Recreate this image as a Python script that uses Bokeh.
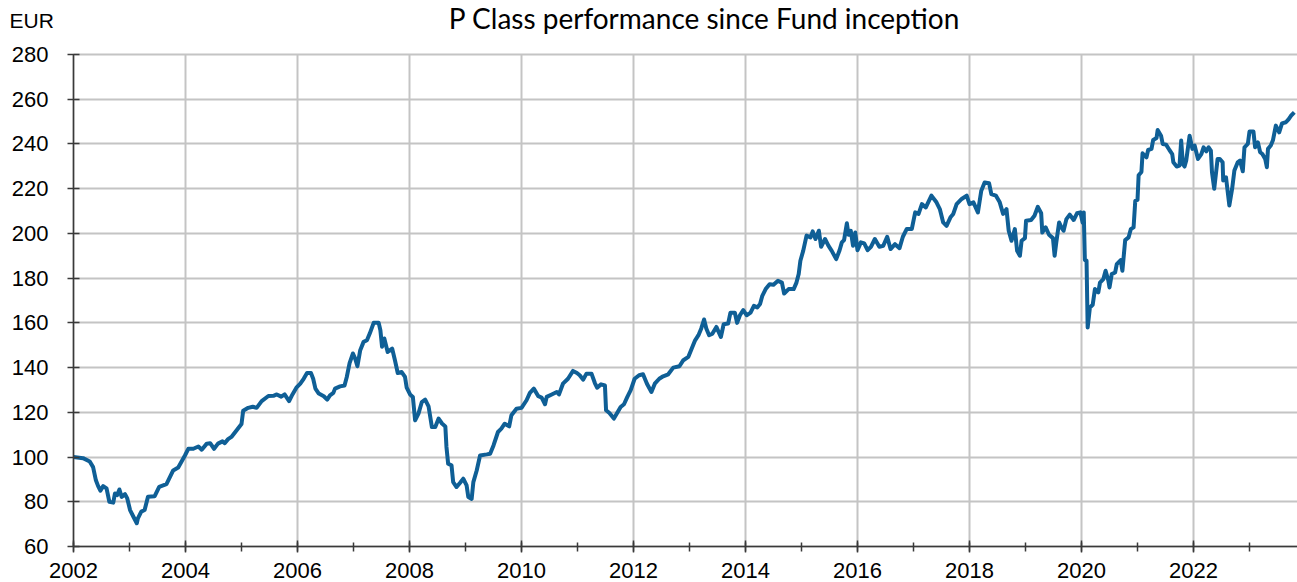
from bokeh.plotting import figure
from bokeh.models import SingleIntervalTicker, Label, Range1d
from bokeh.embed import file_html
from bokeh.resources import INLINE

title_text = "P Class performance since Fund inception"
unit_text = "EUR"

years = [
    2002.00, 2002.17, 2002.29, 2002.35, 2002.40, 2002.44, 2002.48, 2002.53, 2002.59, 2002.64,
    2002.71, 2002.74, 2002.78, 2002.82, 2002.86, 2002.92, 2002.96, 2003.01, 2003.07, 2003.13,
    2003.15, 2003.21, 2003.27, 2003.33, 2003.45, 2003.53, 2003.66, 2003.78, 2003.87, 2003.99,
    2004.05, 2004.14, 2004.23, 2004.29, 2004.38, 2004.44, 2004.51, 2004.58, 2004.66, 2004.70,
    2004.76, 2004.82, 2004.91, 2005.00, 2005.03, 2005.12, 2005.20, 2005.27, 2005.36, 2005.48,
    2005.57, 2005.63, 2005.71, 2005.77, 2005.85, 2005.91, 2005.98,
    2006.05, 2006.11, 2006.17, 2006.24, 2006.28, 2006.32, 2006.38, 2006.47, 2006.53, 2006.58,
    2006.64, 2006.67, 2006.76, 2006.84, 2006.88, 2006.93, 2006.99, 2007.03, 2007.07, 2007.12,
    2007.18, 2007.24, 2007.29, 2007.36, 2007.45, 2007.48, 2007.51, 2007.55, 2007.61, 2007.69,
    2007.74, 2007.79, 2007.86, 2007.92, 2007.95, 2008.01, 2008.06, 2008.10, 2008.16, 2008.22,
    2008.28, 2008.34, 2008.40, 2008.46, 2008.52, 2008.58, 2008.64, 2008.66, 2008.69, 2008.75,
    2008.78, 2008.84, 2008.90, 2008.96, 2009.02, 2009.05, 2009.11, 2009.14, 2009.20, 2009.26,
    2009.38, 2009.44, 2009.50, 2009.58, 2009.64, 2009.70, 2009.78, 2009.82, 2009.91, 2010.00,
    2010.09, 2010.15, 2010.22, 2010.30, 2010.36, 2010.42, 2010.45, 2010.54, 2010.63, 2010.67,
    2010.74, 2010.83, 2010.92, 2010.99, 2011.04, 2011.10, 2011.16, 2011.25, 2011.31, 2011.35,
    2011.42, 2011.49, 2011.51, 2011.57, 2011.65, 2011.70, 2011.77, 2011.83, 2011.89, 2011.95,
    2012.02, 2012.10, 2012.17, 2012.24, 2012.32, 2012.38, 2012.46, 2012.53, 2012.62, 2012.71,
    2012.82, 2012.89, 2012.98, 2013.04, 2013.10, 2013.16, 2013.21, 2013.26, 2013.30, 2013.35,
    2013.41, 2013.48, 2013.56, 2013.61, 2013.69, 2013.73, 2013.81, 2013.85, 2013.90, 2013.96,
    2014.02, 2014.09, 2014.15, 2014.21, 2014.26, 2014.30, 2014.36, 2014.43, 2014.50, 2014.58,
    2014.65, 2014.69, 2014.77, 2014.86, 2014.91, 2014.95, 2014.98, 2015.03, 2015.09, 2015.16,
    2015.20, 2015.25, 2015.31, 2015.35, 2015.42, 2015.48, 2015.54, 2015.62, 2015.68, 2015.72,
    2015.76, 2015.81, 2015.84, 2015.88, 2015.92, 2015.96, 2016.00, 2016.06, 2016.12, 2016.18,
    2016.24, 2016.31, 2016.39, 2016.46, 2016.53, 2016.59, 2016.67, 2016.75, 2016.81, 2016.88,
    2016.97, 2017.03, 2017.09, 2017.15, 2017.22, 2017.32, 2017.41, 2017.47, 2017.53, 2017.59,
    2017.66, 2017.71, 2017.77, 2017.86, 2017.95, 2018.00, 2018.07, 2018.15, 2018.21, 2018.27,
    2018.35, 2018.39, 2018.47, 2018.54, 2018.60, 2018.66, 2018.70, 2018.75, 2018.81, 2018.85,
    2018.90, 2018.93, 2018.99, 2019.01, 2019.10, 2019.16, 2019.22, 2019.28, 2019.30, 2019.36,
    2019.42, 2019.49, 2019.52, 2019.55, 2019.60, 2019.64, 2019.68, 2019.73, 2019.79, 2019.86,
    2019.92, 2019.98, 2020.02, 2020.04, 2020.06, 2020.09, 2020.11, 2020.15, 2020.20, 2020.24,
    2020.30, 2020.33, 2020.39, 2020.43, 2020.48, 2020.50, 2020.54, 2020.60, 2020.63, 2020.70,
    2020.73, 2020.78, 2020.84, 2020.88, 2020.93, 2020.96, 2021.00, 2021.02, 2021.07, 2021.09,
    2021.16, 2021.19, 2021.25, 2021.28, 2021.34, 2021.36, 2021.42, 2021.45, 2021.51, 2021.57,
    2021.62, 2021.64, 2021.70, 2021.75, 2021.78, 2021.81, 2021.84, 2021.87, 2021.93, 2021.98,
    2022.02, 2022.08, 2022.14, 2022.18, 2022.23, 2022.27, 2022.31, 2022.33, 2022.37, 2022.43,
    2022.47, 2022.52, 2022.53, 2022.58, 2022.64, 2022.69, 2022.73, 2022.79, 2022.83, 2022.88,
    2022.91, 2022.97, 2023.00, 2023.07, 2023.10, 2023.15, 2023.19, 2023.23, 2023.28, 2023.31,
    2023.33, 2023.38, 2023.42, 2023.47, 2023.53, 2023.58, 2023.65, 2023.70, 2023.74, 2023.80,
]

nav = [
    100.0, 99.5, 98.0, 95.5, 89.6, 87.0, 85.0, 87.0, 86.0, 80.0,
    79.6, 83.7, 83.0, 85.5, 82.2, 83.4, 81.5, 76.3, 73.3, 70.4,
    72.6, 75.6, 76.3, 82.2, 82.5, 86.7, 87.9, 94.0, 95.3, 100.7,
    103.7, 103.7, 104.7, 103.3, 106.0, 106.2, 103.7, 106.0, 107.0, 106.2,
    108.0, 109.0, 111.9, 114.8, 120.7, 122.0, 122.5, 122.0, 125.0, 127.3,
    127.4, 128.0, 127.0, 128.0, 125.0, 128.0, 131.0,
    132.8, 135.0, 137.6, 137.6, 135.0, 130.6, 128.4, 127.2, 125.7, 127.6,
    128.7, 130.6, 131.6, 132.0, 135.8, 142.0, 146.3, 144.0, 140.6, 147.8,
    151.5, 152.2, 155.2, 160.0, 160.0, 156.7, 149.3, 153.0, 147.0, 148.5,
    143.3, 137.6, 138.0, 135.8, 131.0, 128.0, 126.9, 116.4, 119.4, 124.6,
    125.7, 122.7, 113.4, 113.4, 117.2, 115.0, 113.7, 104.5, 97.0, 96.3,
    88.8, 86.6, 88.4, 90.3, 87.3, 82.1, 81.3, 88.8, 94.0, 100.7,
    101.2, 101.5, 105.2, 111.2, 112.7, 114.9, 113.7, 118.7, 121.6, 122.0,
    125.4, 128.7, 130.6, 127.2, 126.6, 123.6, 126.9, 128.0, 129.1, 128.0,
    132.8, 135.0, 138.5, 137.6, 136.6, 134.6, 137.3, 137.3, 133.1, 131.0,
    132.5, 132.0, 120.9, 119.7, 117.2, 119.4, 122.4, 123.6, 126.9, 129.9,
    135.0, 136.6, 137.0, 132.8, 129.1, 132.8, 135.0, 136.1, 137.0, 140.0,
    140.6, 143.3, 144.8, 148.5, 152.2, 154.5, 157.5, 161.5, 157.5, 154.5,
    155.2, 158.2, 153.7, 159.4, 159.7, 164.5, 164.5, 160.0, 163.4, 165.7,
    163.4, 164.6, 167.6, 166.9, 168.4, 172.1, 175.1, 177.3, 177.0, 178.8,
    178.0, 173.1, 175.1, 175.1, 178.0, 181.8, 187.8, 192.2, 199.0, 198.2,
    200.9, 197.5, 201.2, 194.0, 197.5, 194.5, 192.2, 188.5, 192.5, 196.0,
    197.0, 204.5, 199.4, 201.2, 194.5, 200.4, 192.5, 196.0, 195.5, 192.5,
    194.0, 197.5, 194.0, 194.5, 198.5, 193.0, 195.2, 193.4, 198.5, 202.0,
    202.0, 209.4, 208.7, 213.1, 211.6, 216.9, 213.9, 210.9, 204.9, 203.4,
    207.2, 208.7, 213.1, 215.4, 216.9, 213.1, 213.9, 209.4, 219.1, 222.8,
    222.4, 217.6, 216.9, 213.9, 208.7, 210.9, 201.2, 196.7, 201.9, 192.2,
    190.0, 196.7, 197.9, 205.7, 206.0, 207.9, 211.9, 209.0, 200.4, 202.7,
    199.4, 197.9, 190.0, 196.0, 204.9, 202.7, 201.2, 206.4, 208.4, 206.0,
    209.0, 209.4, 204.9, 209.4, 188.1, 187.8, 157.9, 166.9, 168.1, 175.1,
    173.6, 178.0, 179.6, 183.3, 178.8, 175.8, 181.8, 182.5, 186.3, 188.1,
    183.3, 197.0, 198.2, 201.9, 202.7, 214.6, 215.0, 226.0, 227.5, 235.8,
    234.0, 237.3, 237.8, 241.8, 242.7, 246.2, 243.7, 240.0, 239.7, 237.3,
    235.5, 231.8, 229.9, 230.3, 241.5, 231.1, 229.9, 232.6, 243.7, 237.8,
    239.3, 233.3, 235.5, 238.5, 236.7, 238.5, 237.0, 227.4, 220.0, 233.3,
    233.3, 231.8, 223.7, 225.1, 212.5, 220.0, 228.1, 231.8, 232.6, 227.8,
    238.5, 240.0, 245.6, 245.6, 238.5, 240.7, 236.3, 235.5, 233.3, 229.6,
    237.8, 239.3, 241.8, 248.2, 245.2, 249.2, 249.7, 251.1, 252.6, 254.1,
]

x_start, x_end = 2002, 2023.857
y_start, y_end = 60, 280

# page layout (pixels)
W, H = 1297, 582
LEFT, TOP, BOTTOM = 73, 54, 36
px_x = (W - LEFT) / (x_end - x_start)
px_y = (H - TOP - BOTTOM) / (y_end - y_start)

p = figure(width=W, height=H, output_backend="svg", toolbar_location=None,
           x_range=Range1d(x_start - LEFT / px_x, x_end),
           y_range=Range1d(y_start - BOTTOM / px_y, y_end + TOP / px_y),
           min_border=0, min_border_left=0, min_border_right=0,
           min_border_top=0, min_border_bottom=0)
p.outline_line_color = None
p.background_fill_color = "white"
p.border_fill_color = "white"

xt = SingleIntervalTicker(interval=2, num_minor_ticks=2)
yt = SingleIntervalTicker(interval=20, num_minor_ticks=0)

xaxis = p.xaxis[0]
yaxis = p.yaxis[0]
xaxis.ticker = xt
yaxis.ticker = yt
xaxis.fixed_location = y_start
yaxis.fixed_location = x_start
xaxis.bounds = (x_start, x_end)
yaxis.bounds = (y_start, y_end)

xg = p.xgrid[0]
yg = p.ygrid[0]
xg.ticker = xt
yg.ticker = yt
xg.bounds = (x_start, x_end)
yg.bounds = (y_start, y_end)
xg.cross_bounds = (y_start, y_end)
yg.cross_bounds = (x_start, x_end)
for g in (xg, yg):
    g.grid_line_color = "#c4c4c4"
    g.grid_line_width = 2

p.line(years, nav, line_color="#0f5f96", line_width=4, line_join="round")

for ax in (xaxis, yaxis):
    ax.axis_line_color = "#3a3a3a"
    ax.axis_line_width = 1.5
    ax.major_tick_line_color = "#3a3a3a"
    ax.major_tick_line_width = 1.5
    ax.minor_tick_line_color = "#3a3a3a"
    ax.minor_tick_line_width = 1.5
    ax.major_tick_in = 6
    ax.major_tick_out = 6
    ax.major_label_text_font = "Liberation Sans"
    ax.major_label_text_font_size = "22px"
    ax.major_label_text_color = "black"

xaxis.minor_tick_in = 4
xaxis.minor_tick_out = 5
xaxis.major_label_standoff = 10
yaxis.major_label_standoff = 19

p.add_layout(Label(x=704, y=H - 17, x_units="screen", y_units="screen", text=title_text,
                   text_align="center", text_baseline="alphabetic", text_font="Lato",
                   text_font_size="28px", text_color="black"))
p.add_layout(Label(x=9, y=H - 20, x_units="screen", y_units="screen", text=unit_text,
                   text_align="left", text_baseline="middle", text_font="Liberation Sans",
                   text_font_size="21px", text_color="black"))

open("out.html", "w").write(file_html(p, INLINE))
